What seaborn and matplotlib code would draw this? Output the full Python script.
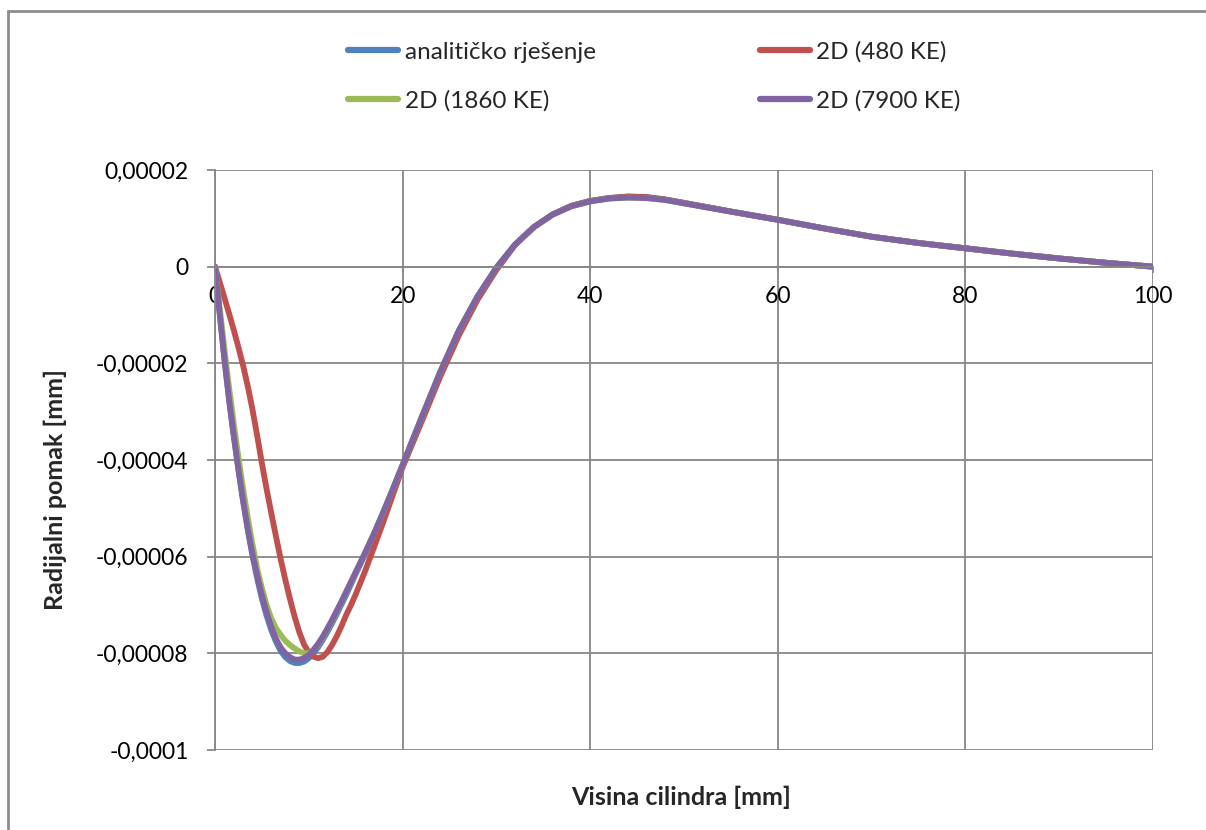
import numpy as np
import pandas as pd
import matplotlib
matplotlib.use("Agg")
import matplotlib.pyplot as plt
from matplotlib.lines import Line2D
import seaborn as sns

# ---- data (radial displacement, in units of 1e-5 mm) ----
x_mm = [0, 0.5, 1, 1.5, 2, 2.5, 3, 3.5, 4, 4.5, 5, 5.5, 6, 6.5, 7, 7.5, 8, 8.5, 9, 9.5,
        10, 10.5, 11, 11.5, 12, 12.5, 13, 13.5, 14, 14.5, 15,
        16, 17, 18, 19, 20, 22, 24, 26, 28, 30, 32, 34, 36, 38, 40, 42, 44, 46, 48, 50,
        55, 60, 65, 70, 75, 80, 85, 90, 95, 100]

analiticko = [0, -0.97, -1.9, -2.75, -3.5, -4.2, -4.85, -5.45, -5.98, -6.45, -6.87, -7.22,
              -7.52, -7.76, -7.95, -8.08, -8.16, -8.2, -8.2, -8.17,
              -8.1, -8.0, -7.87, -7.72, -7.55, -7.37, -7.18, -6.98, -6.78, -6.57, -6.36,
              -5.95, -5.52, -5.07, -4.6, -4.12, -3.15, -2.2, -1.33, -0.62, -0.03, 0.46, 0.82,
              1.08, 1.26, 1.36, 1.42, 1.45, 1.44, 1.39, 1.32,
              1.14, 0.97, 0.79, 0.62, 0.49, 0.38, 0.27, 0.17, 0.08, 0]

ke480 = [0, -0.32, -0.64, -0.97, -1.31, -1.67, -2.05, -2.48, -2.96, -3.5, -4.07, -4.6,
         -5.1, -5.58, -6.05, -6.48, -6.88, -7.25, -7.57, -7.82,
         -7.98, -8.07, -8.1, -8.07, -7.97, -7.82, -7.64, -7.43, -7.2, -7.0, -6.78,
         -6.3, -5.78, -5.25, -4.7, -4.15, -3.22, -2.28, -1.42, -0.68, -0.07, 0.45, 0.82,
         1.08, 1.26, 1.36, 1.42, 1.45, 1.44, 1.39, 1.32,
         1.14, 0.97, 0.79, 0.62, 0.49, 0.38, 0.27, 0.17, 0.08, 0]

ke1860 = [0, -0.85, -1.7, -2.5, -3.25, -3.95, -4.6, -5.2, -5.75, -6.25, -6.65, -7.0,
          -7.28, -7.48, -7.62, -7.74, -7.83, -7.9, -7.96, -8.0,
          -8.0, -7.93, -7.82, -7.67, -7.5, -7.32, -7.13, -6.93, -6.73, -6.53, -6.33,
          -5.92, -5.5, -5.05, -4.58, -4.1, -3.13, -2.18, -1.32, -0.61, -0.02, 0.46, 0.82,
          1.08, 1.25, 1.35, 1.41, 1.43, 1.42, 1.38, 1.31,
          1.14, 0.97, 0.79, 0.62, 0.49, 0.38, 0.27, 0.17, 0.08, 0]

ke7900 = [0, -0.97, -1.9, -2.75, -3.5, -4.2, -4.85, -5.43, -5.95, -6.4, -6.8, -7.15,
          -7.45, -7.7, -7.88, -8.0, -8.08, -8.13, -8.13, -8.1,
          -8.03, -7.93, -7.8, -7.65, -7.48, -7.3, -7.11, -6.92, -6.72, -6.52, -6.32,
          -5.92, -5.5, -5.05, -4.58, -4.1, -3.13, -2.18, -1.32, -0.61, -0.02, 0.46, 0.82,
          1.08, 1.25, 1.35, 1.41, 1.43, 1.42, 1.38, 1.31,
          1.14, 0.97, 0.79, 0.62, 0.49, 0.38, 0.27, 0.17, 0.08, 0]

series_names = ["analitičko rješenje", "2D (480 KE)", "2D (1860 KE)", "2D (7900 KE)"]
series_colors = ["#4F81BD", "#C0504D", "#9BBB59", "#8064A2"]

x_ticks = [0, 20, 40, 60, 80, 100]
y_ticks = [-0.0001, -0.00008, -0.00006, -0.00004, -0.00002, 0, 0.00002]
y_tick_labels = ["-0,0001", "-0,00008", "-0,00006", "-0,00004", "-0,00002", "0", "0,00002"]

x_label = "Visina cilindra [mm]"
y_label = "Radijalni pomak [mm]"

# ---- build long table ----
frames = []
for name, vals in zip(series_names, [analiticko, ke480, ke1860, ke7900]):
    frames.append(pd.DataFrame({"x": x_mm, "y": np.array(vals) * 1e-5, "serija": name}))
df = pd.concat(frames, ignore_index=True)

sns.set_style("white")
plt.rcParams["font.family"] = ["Lato", "DejaVu Sans"]

fig = plt.figure(figsize=(12.06, 8.30), dpi=100)
ax = fig.add_axes([215 / 1206, 1 - 750 / 830, (1153 - 215) / 1206, (750 - 170) / 830])

sns.lineplot(data=df, x="x", y="y", hue="serija", hue_order=series_names,
             palette=series_colors, linewidth=4.2, ax=ax, sort=False, legend=True)
for ln in ax.get_lines():
    ln.set_solid_joinstyle("round")
    ln.set_solid_capstyle("round")

ax.set_xlim(0, 100)
ax.set_ylim(-0.0001, 0.00002)
ax.set_xticks(x_ticks)
ax.set_xticklabels([str(t) for t in x_ticks])
ax.set_yticks(y_ticks)
ax.set_yticklabels(y_tick_labels)

gridc = "#878787"
ax.grid(True, color=gridc, linewidth=1.3)
ax.set_axisbelow(True)
for s in ["top", "right"]:
    ax.spines[s].set_visible(False)
ax.spines["bottom"].set_position(("data", 0))
ax.spines["bottom"].set_color(gridc)
ax.spines["bottom"].set_linewidth(1.3)
ax.spines["left"].set_color(gridc)
ax.spines["left"].set_linewidth(1.3)

ax.tick_params(axis="y", direction="out", length=6, width=1.3, color=gridc, pad=13,
               labelsize=16.5, labelcolor="black", left=True)
ax.tick_params(axis="x", direction="out", length=4, width=1.3, color=gridc, pad=10,
               labelsize=16.5, labelcolor="black", bottom=True)

ax.set_xlabel("")
ax.set_ylabel("")
fig.text(681 / 1206, 1 - 797 / 830, x_label, ha="center", va="center",
         fontsize=18, fontweight="bold")
fig.text(55 / 1206, 1 - 490 / 830, y_label, ha="center", va="center",
         rotation=90, fontsize=18, fontweight="bold")

# legend: 2 columns, row-major order as in reference
handles, labels = ax.get_legend_handles_labels()
lookup = dict(zip(labels, handles))
order = ["analitičko rješenje", "2D (1860 KE)", "2D (480 KE)", "2D (7900 KE)"]
hs = [Line2D([0], [0], color=lookup[n].get_color(), lw=4.5, solid_capstyle="round") for n in order]
ax.legend(hs, order, ncol=2, loc="upper left", bbox_to_anchor=(336 / 1206, 1 - 29 / 830),
          bbox_transform=fig.transFigure, frameon=False, fontsize=17.5, borderpad=0,
          handlelength=2.05, handletextpad=0.28, columnspacing=6.75, labelspacing=1.13)

# outer chart border (left and top visible; right/bottom cropped)
bc = "#8C8C8C"
fig.add_artist(Line2D([8 / 1206, 8 / 1206], [0, 1 - 11 / 830], transform=fig.transFigure,
                      color=bc, lw=2))
fig.add_artist(Line2D([8 / 1206, 1], [1 - 11 / 830, 1 - 11 / 830], transform=fig.transFigure,
                      color=bc, lw=2))

fig.savefig("out.png", dpi=100, facecolor="white")
